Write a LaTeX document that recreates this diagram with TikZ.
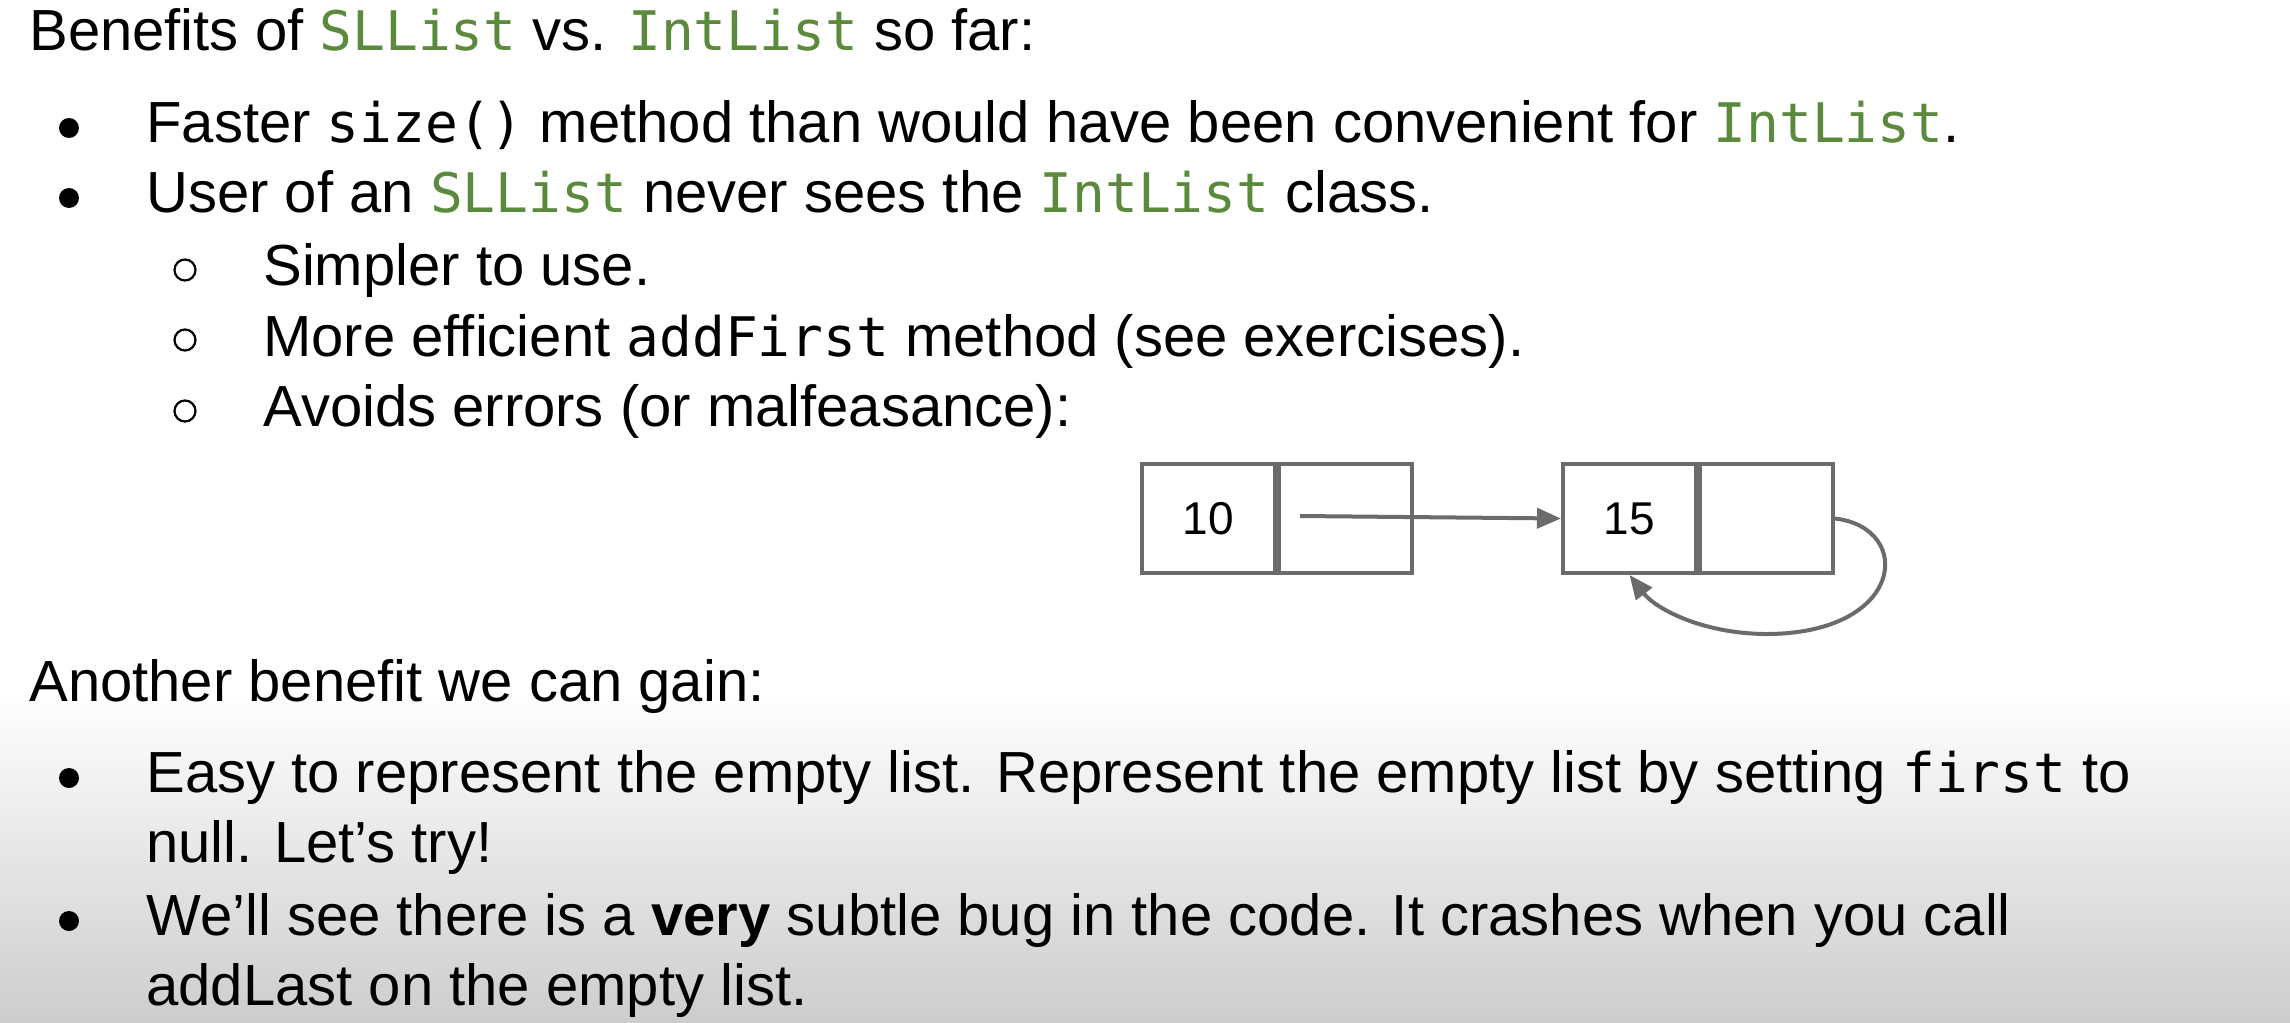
\documentclass[tikz,border=0pt]{standalone}
\usepackage{fontspec}
\setmainfont{Liberation Sans}
\newfontfamily\monof[Scale=0.94]{DejaVu Sans Mono}
\usetikzlibrary{arrows.meta}
\definecolor{codegreen}{HTML}{5B8A3C}
\definecolor{linegray}{HTML}{6B6B6B}
\definecolor{bottomgray}{HTML}{CDCDCD}
\newcommand{\cg}[1]{{\monof\color{codegreen}#1}}
\newcommand{\cb}[1]{{\monof #1}}
\begin{document}
\begin{tikzpicture}[x=0.5pt,y=-0.5pt,
  txt/.style={anchor=base west,inner sep=0pt,font=\fontsize{29pt}{34pt}\selectfont},
  dot/.style={fill=black,draw=none},
  ring/.style={draw=black,line width=1.1pt,fill=none},
  cell/.style={draw=linegray,line width=2pt,minimum width=66.5pt,minimum height=54.5pt,inner sep=0pt,font=\fontsize{23pt}{27pt}\selectfont},
  ptr/.style={draw=linegray,line width=2pt,-{Triangle[length=12pt,width=10pt]}}]
\useasboundingbox (0,0) rectangle (2290,1022);
\fill[white] (0,0) rectangle (2290,1022);
\shade[top color=white,bottom color=bottomgray] (0,690) rectangle (2290,1022);
\fill[white] (0,0) rectangle (2290,690);

\node[txt] (title) at (29,51) {Benefits of \cg{SLList} vs. \cg{IntList} so far:};
\fill[dot] (69,128) circle (10);
\node[txt] (b1) at (146,142) {Faster \cb{size()} method than would have been convenient for \cg{IntList}.};
\fill[dot] (69,198) circle (10);
\node[txt] (b2) at (146,212) {User of an \cg{SLList} never sees the \cg{IntList} class.};
\draw[ring] (185,270) circle (10.5);
\node[txt] (s1) at (263,285) {Simpler to use.};
\draw[ring] (185,340) circle (10.5);
\node[txt] (s2) at (263,356) {More efficient \cb{addFirst} method (see exercises).};
\draw[ring] (185,411) circle (10.5);
\node[txt] (s3) at (263,426) {Avoids errors (or malfeasance):};

\node[cell,anchor=north west] (n1a) at (1140,462) {10};
\node[cell,anchor=north west] (n1b) at (n1a.north east) {};
\node[cell,anchor=north west] (n2a) at (1561,462) {15};
\node[cell,anchor=north west] (n2b) at (n2a.north east) {};
\coordinate (p1) at (1300,516);
\draw[ptr] (p1) -- (n2a.west);
\draw[ptr] (n2b.east) .. controls (1915,528) and (1905,635) .. (1764,634) .. controls (1700,633) and (1655,608) .. (n2a.south);

\node[txt] (another) at (29,701) {Another benefit we can gain:};
\fill[dot] (69,778) circle (10);
\node[txt] (b3a) at (146,792) {Easy to represent the empty list. Represent the empty list by setting \cb{first} to};
\node[txt] (b3b) at (146,862) {null. Let’s try!};
\fill[dot] (69,921) circle (10);
\node[txt] (b4a) at (146,935) {We’ll see there is a \textbf{very} subtle bug in the code. It crashes when you call};
\node[txt] (b4b) at (146,1005) {addLast on the empty list.};
\end{tikzpicture}
\end{document}
